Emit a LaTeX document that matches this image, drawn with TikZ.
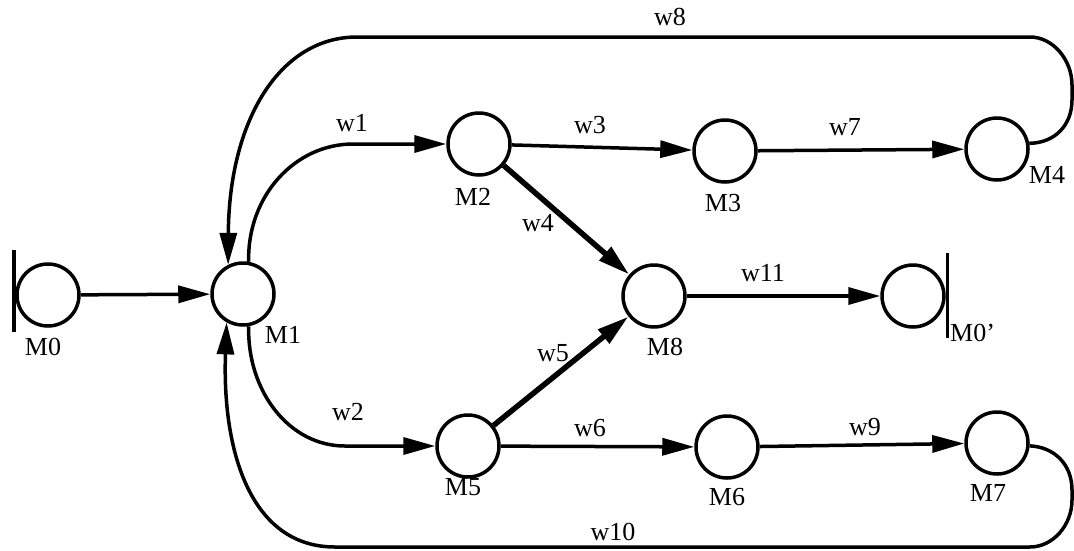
\documentclass[tikz,border=0pt]{standalone}
\usepackage{fontspec}
\setmainfont{Liberation Serif}
\usetikzlibrary{arrows.meta}
\begin{document}
\begin{tikzpicture}[x=1pt,y=-1pt,
  place/.style={circle,draw,line width=3.5pt,minimum size=62pt,inner sep=0pt},
  arr/.style={line width=3.5pt,-{Triangle[length=32pt,width=17pt]}},
  tarr/.style={arr,line width=5.5pt},
  bar/.style={line width=3.5pt},
  lab/.style={font=\fontsize{26}{30}\selectfont,inner sep=0pt}]
\useasboundingbox (0,0) rectangle (1074,550);
% places
\node[place] (M0) at (48,295) {};
\node[place] (M1) at (243,294) {};
\node[place] (M2) at (479,144) {};
\node[place] (M3) at (725,151) {};
\node[place] (M4) at (997,149) {};
\node[place] (M8) at (654,296) {};
\node[place] (M0p) at (913,296) {};
\node[place] (M5) at (468,446) {};
\node[place] (M6) at (727,447) {};
\node[place] (M7) at (997,443) {};
% bars
\draw[bar] ([xshift=-1.5pt,yshift=45pt]M0.west) -- ([xshift=-1.5pt,yshift=-37pt]M0.west);
\draw[bar] ([xshift=1.5pt,yshift=43pt]M0p.east) -- ([xshift=1.5pt,yshift=-42pt]M0p.east);
% place labels
\node[lab] (lM0) at (43,347) {M0};
\node[lab] (lM1) at (283,335) {M1};
\node[lab] (lM2) at (473,197) {M2};
\node[lab] (lM3) at (723,203) {M3};
\node[lab] (lM4) at (1047,175) {M4};
\node[lab] (lM8) at (665,347) {M8};
\node[lab,anchor=west] (lM0p) at (950,333) {M0'};
\node[lab] (lM5) at (463,487) {M5};
\node[lab] (lM6) at (727,497) {M6};
\node[lab] (lM7) at (988,493) {M7};
% transition labels
\node[lab] (w1) at (352,123) {w1};
\node[lab] (w2) at (348,412) {w2};
\node[lab] (w3) at (590,125) {w3};
\node[lab] (w4) at (538,223) {w4};
\node[lab] (w5) at (553,353) {w5};
\node[lab] (w6) at (590,428) {w6};
\node[lab] (w7) at (845,127) {w7};
\node[lab] (w8) at (670,17) {w8};
\node[lab] (w9) at (865,427) {w9};
\node[lab] (w10) at (613,532) {w10};
\node[lab] (w11) at (763,273) {w11};
% connectors
\draw[arr] (M0) -- (M1);
\draw[arr] (M1.80) .. controls (247,196) and (295,144) .. (353,144) -- (M2);
\draw[arr] (M1.-80) .. controls (247,391) and (289,446) .. (345,446) -- (M5);
\draw[arr] (M2) -- (M3);
\draw[arr] (M3) -- (M4);
\draw[tarr] (M2) -- (M8);
\draw[tarr] (M5) -- (M8);
\draw[arr] (M8) -- (M0p);
\draw[arr] (M5) -- (M6);
\draw[arr] (M6) -- (M7);
\draw[arr] (M4.10) .. controls (1055,143) and (1072,125) .. (1072,100) -- (1072,85)
  .. controls (1072,60) and (1053,37) .. (1030,37) -- (357,37)
  .. controls (280,37) and (229,120) .. (M1.117);
\draw[arr] (M7.-5) .. controls (1055,447) and (1072,465) .. (1072,490) -- (1072,500)
  .. controls (1072,525) and (1053,547) .. (1030,547) -- (335,547)
  .. controls (250,547) and (222,450) .. (M1.-120);
\end{tikzpicture}
\end{document}
